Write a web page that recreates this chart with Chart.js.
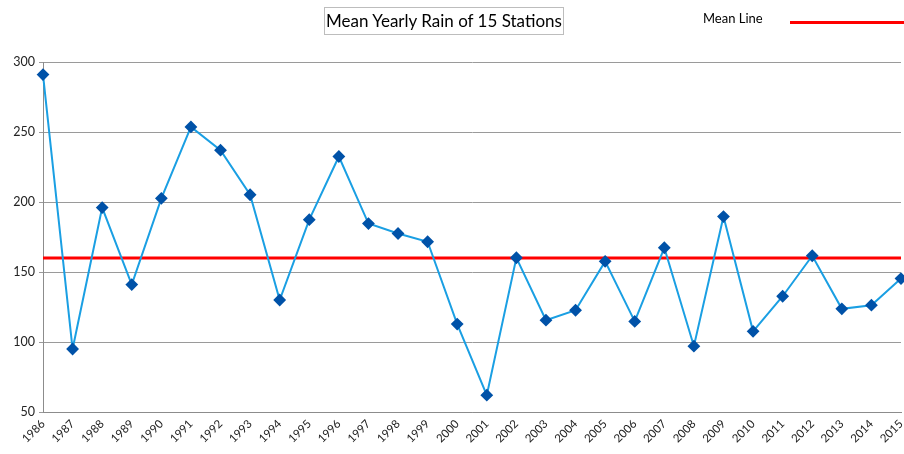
<!DOCTYPE html>
<html>
<head>
<meta charset="utf-8">
<script src="https://cdn.jsdelivr.net/npm/chart.js@4/dist/chart.umd.min.js"></script>
<style>
  html, body { margin: 0; padding: 0; background: #fff; }
  #wrap { position: relative; width: 904px; height: 454px; }
  #title {
    position: absolute; left: 324px; top: 7px; width: 240px; height: 28px;
    border: 1px solid #bdbdbd; font: 17px Lato, "Open Sans", sans-serif; color: #000;
    text-align: center; line-height: 26px; box-sizing: border-box; white-space: nowrap;
  }
  #legend { position: absolute; left: 703px; top: 10px; font: 13px Lato, sans-serif; color: #000; }
  #legendLine { position: absolute; left: 790px; top: 21px; width: 114px; height: 3px; background: #ff0000; }
</style>
</head>
<body>
<div id="wrap">
  <canvas id="chart" width="904" height="454"></canvas>
  <div id="title">Mean Yearly Rain of 15 Stations</div>
  <div id="legend">Mean Line</div>
  <div id="legendLine"></div>
</div>
<script>
// anos e chuva média
const YEARS = ["1986", "1987", "1988", "1989", "1990", "1991", "1992", "1993", "1994", "1995",
  "1996", "1997", "1998", "1999", "2000", "2001", "2002", "2003", "2004", "2005",
  "2006", "2007", "2008", "2009", "2010", "2011", "2012", "2013", "2014", "2015"];
const RAIN = [291, 95, 196, 141, 202.6, 253.6, 237, 205.2, 130, 187.4,
  232.5, 184.6, 177.5, 171.6, 112.8, 62, 160.2, 115.6, 122.7, 157.6,
  114.7, 167.3, 97, 189.6, 107.6, 132.7, 161.6, 123.7, 126.3, 145.3];
const MEAN = 160;
const Y_MIN = 50, Y_MAX = 300, Y_STEP = 50;

const ctx = document.getElementById("chart");
new Chart(ctx, {
  type: "line",
  data: {
    labels: YEARS,
    datasets: [
      {
        label: "Rain",
        data: RAIN,
        borderColor: "#1a9fe3",
        borderWidth: 2,
        pointStyle: "rectRot",
        pointRadius: 5,
        pointBackgroundColor: "#0052a8",
        pointBorderColor: "#0052a8",
        tension: 0,
        order: 1
      },
      {
        label: "Mean Line",
        data: YEARS.map(() => MEAN),
        borderColor: "#ff0000",
        borderWidth: 3,
        pointRadius: 0,
        order: 2
      }
    ]
  },
  options: {
    responsive: false,
    animation: false,
    layout: { autoPadding: false, padding: { top: 62, right: 3, left: 0, bottom: 0 } },
    plugins: { legend: { display: false }, title: { display: false }, tooltip: { enabled: false } },
    scales: {
      x: {
        offset: false,
        grid: { display: false, drawTicks: true, tickLength: 5, tickColor: "#8c8c8c" },
        border: { color: "#8c8c8c" },
        ticks: {
          minRotation: 45, maxRotation: 45, autoSkip: false,
          color: "#222", font: { family: "Lato, sans-serif", size: 11.5 }, padding: 0
        },
        afterFit(s) { s.height = 42; s.paddingLeft = 0; s.paddingRight = 0; }
      },
      y: {
        min: Y_MIN, max: Y_MAX,
        grid: { color: "#9a9a9a", tickLength: 4, tickColor: "#9a9a9a" },
        border: { color: "#8c8c8c" },
        ticks: { stepSize: Y_STEP, color: "#222", font: { family: "Lato, sans-serif", size: 12.5 }, padding: 4 },
        afterFit(s) { s.width = 43; }
      }
    }
  }
});
</script>
</body>
</html>
